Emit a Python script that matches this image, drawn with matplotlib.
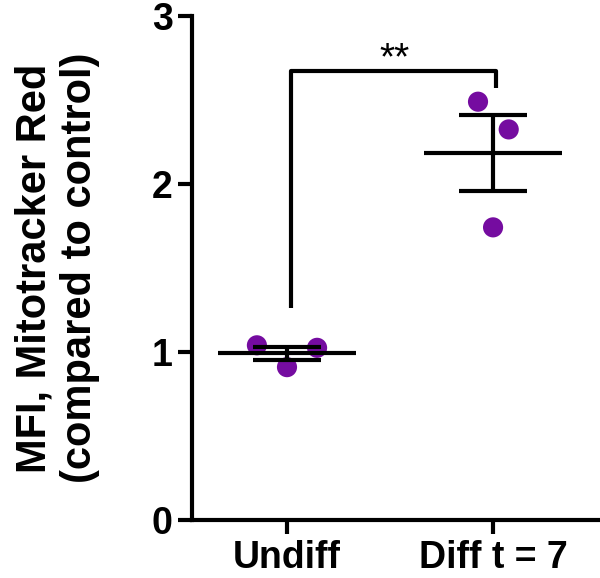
import numpy as np
import matplotlib
matplotlib.use('Agg')
import matplotlib.pyplot as plt

plt.rcParams['font.family'] = ['Liberation Sans', 'DejaVu Sans']

groups = ['Undiff', 'Diff t = 7']
undiff = [1.04, 1.025, 0.91]
diff_t7 = [2.49, 2.325, 1.742]
jitter = [[-0.146, 0.146, 0.0], [-0.073, 0.076, 0.0]]
y_ticks = [0, 1, 2, 3]
y_label = 'MFI, Mitotracker Red\n(compared to control)'
sig_text = '**'

purple = '#750ca0'
lw = 3

fig = plt.figure(figsize=(6, 5.78), dpi=100)
ax = fig.add_axes([0.32, 0.1003, 0.68, 0.872])

for i, vals in enumerate([undiff, diff_t7]):
    vals = np.array(vals)
    xs = i + np.array(jitter[i])
    ax.scatter(xs, vals, s=14.5**2, color=purple, edgecolors='none', zorder=2)
    mean = vals.mean()
    sem = vals.std(ddof=1) / np.sqrt(len(vals))
    ax.hlines(mean, i - 0.333, i + 0.333, color='black', lw=lw, zorder=3)
    ax.errorbar(i, mean, yerr=sem, fmt='none', ecolor='black', elinewidth=lw,
                capsize=24.5, capthick=lw, zorder=3)

# significance bracket
ax.plot([0.02, 0.02, 1.015, 1.015], [1.26, 2.67, 2.67, 2.57], color='black',
        lw=lw, solid_joinstyle='round', solid_capstyle='butt', clip_on=False)
ax.text(0.52, 2.74, sig_text, ha='center', va='center', fontsize=28)

ax.set_xlim(-0.461, 1.519)
ax.set_ylim(0, 3)
ax.set_yticks(y_ticks)
ax.set_xticks(range(len(groups)))
ax.set_xticklabels(groups)
for lab in ax.get_xticklabels() + ax.get_yticklabels():
    lab.set_fontweight('bold')
    lab.set_fontsize(27)
ax.spines['top'].set_visible(False)
ax.spines['right'].set_visible(False)
ax.spines['left'].set_linewidth(lw)
ax.spines['bottom'].set_linewidth(lw)
ax.tick_params(width=lw, length=10, pad=4)
ax.tick_params(axis='x', pad=4.5)
ax.set_ylabel(y_label, fontsize=30, fontweight='bold', linespacing=1.2)
ax.yaxis.set_label_coords(-0.225, 0.5)

fig.savefig('out.png', dpi=100)
